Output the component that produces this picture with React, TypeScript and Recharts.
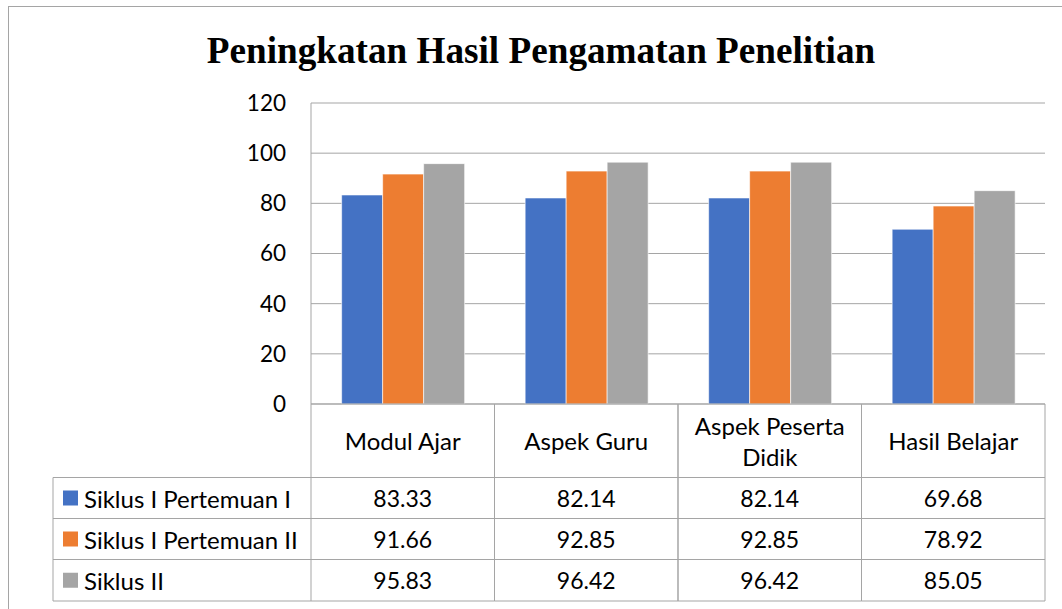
import React from 'react';
import { BarChart, Bar, XAxis, YAxis, CartesianGrid } from 'recharts';

const categories = ['Modul Ajar', 'Aspek Guru', 'Aspek Peserta Didik', 'Hasil Belajar'];
const seriesNames = ['Siklus I Pertemuan I', 'Siklus I Pertemuan II', 'Siklus II'];
const siklus1Pertemuan1 = [83.33, 82.14, 82.14, 69.68];
const siklus1Pertemuan2 = [91.66, 92.85, 92.85, 78.92];
const siklus2 = [95.83, 96.42, 96.42, 85.05];
const yTicks = [0, 20, 40, 60, 80, 100, 120];
const colors = ['#4472C4', '#ED7D31', '#A5A5A5'];
const title = 'Peningkatan Hasil Pengamatan Penelitian';

const seriesValues = [siklus1Pertemuan1, siklus1Pertemuan2, siklus2];
const data = categories.map((c, i) => ({
  name: c,
  s0: siklus1Pertemuan1[i],
  s1: siklus1Pertemuan2[i],
  s2: siklus2[i],
}));

const CHART_W = 1053;
const CHART_H = 602;
const M_TOP = 96;
const M_RIGHT = 17;
const Y_W = 302;
const X_H = 205;
const HEADER_LEFT = 44;
const ROW_EDGES = [73.5, 114.5, 155.5, 197];
const LINE = '#a5a5a5';
const FONT = 'Lato, "Open Sans", sans-serif';
const FS_TEXT = 24;
const FS_NUM = 23;
const FS_TICK = 22.5;

function wrap(label: string, max: number): string[] {
  const words = label.split(' ');
  const lines: string[] = [];
  let cur = '';
  for (const w of words) {
    const next = cur ? cur + ' ' + w : w;
    if (next.length > max && cur) {
      lines.push(cur);
      cur = w;
    } else cur = next;
  }
  if (cur) lines.push(cur);
  return lines;
}

const TableTick = (props: any) => {
  const { x, y, payload } = props;
  const idx = categories.indexOf(payload.value);
  const bw = (CHART_W - M_RIGHT - Y_W) / categories.length;
  const left = x - bw / 2;
  const right = x + bw / 2;
  const lines = wrap(String(payload.value), 14);
  const catCenter = y + ROW_EDGES[0] / 2;
  const lh = 31;
  const bottom = y + ROW_EDGES[ROW_EDGES.length - 1];
  return (
    <g>
      <line x1={left} y1={y} x2={left} y2={bottom} stroke={LINE} />
      <line x1={right} y1={y} x2={right} y2={bottom} stroke={LINE} />
      {ROW_EDGES.map((r, k) => (
        <line key={k} x1={left} y1={y + r} x2={right} y2={y + r} stroke={LINE} />
      ))}
      {lines.map((ln, k) => (
        <text
          key={k}
          x={x}
          y={catCenter + (k - (lines.length - 1) / 2) * lh}
          textAnchor="middle"
          dominantBaseline="central"
          fontFamily={FONT}
          fontSize={FS_TEXT}
          fill="#000"
        >
          {ln}
        </text>
      ))}
      {seriesValues.map((vals, s) => (
        <text
          key={s}
          x={x}
          y={y + (ROW_EDGES[s] + ROW_EDGES[s + 1]) / 2}
          textAnchor="middle"
          dominantBaseline="central"
          fontFamily={FONT}
          fontSize={FS_NUM}
          fill="#000"
        >
          {vals[idx].toFixed(2)}
        </text>
      ))}
      {idx === 0 && (
        <g>
          <line x1={HEADER_LEFT} y1={y + ROW_EDGES[0]} x2={HEADER_LEFT} y2={bottom} stroke={LINE} />
          {ROW_EDGES.map((r, k) => (
            <line key={k} x1={HEADER_LEFT} y1={y + r} x2={left} y2={y + r} stroke={LINE} />
          ))}
          {seriesNames.map((n, s) => {
            const cy = y + (ROW_EDGES[s] + ROW_EDGES[s + 1]) / 2;
            return (
              <g key={s}>
                <rect x={HEADER_LEFT + 10} y={cy - 7.5} width={15} height={15} fill={colors[s]} />
                <text
                  x={HEADER_LEFT + 31}
                  y={cy}
                  dominantBaseline="central"
                  fontFamily={FONT}
                  fontSize={FS_TEXT}
                  fill="#000"
                >
                  {n}
                </text>
              </g>
            );
          })}
        </g>
      )}
    </g>
  );
};

export default function App() {
  return (
    <div
      style={{
        position: 'fixed',
        left: 8,
        top: 6,
        width: 1054,
        height: 603,
        borderLeft: `1px solid ${LINE}`,
        borderTop: `1px solid ${LINE}`,
        boxSizing: 'border-box',
        background: '#fff',
      }}
    >
      <div style={{ position: 'absolute', left: 0, top: 0 }}>
        <BarChart
          width={CHART_W}
          height={CHART_H}
          data={data}
          margin={{ top: M_TOP, right: M_RIGHT, left: 0, bottom: 0 }}
          barCategoryGap="16.7%"
          barGap={0}
        >
          <CartesianGrid horizontal vertical={false} stroke={LINE} />
          <YAxis
            width={Y_W}
            domain={[0, 120]}
            ticks={yTicks}
            interval={0}
            tickLine={false}
            tickSize={0}
            tickMargin={25}
            axisLine={{ stroke: LINE }}
            tick={{ fill: '#000', fontSize: FS_TICK, fontFamily: FONT }}
          />
          <XAxis
            dataKey="name"
            height={X_H}
            tickLine={false}
            tickSize={0}
            tickMargin={0}
            interval={0}
            axisLine={{ stroke: LINE }}
            tick={<TableTick />}
          />
          {seriesNames.map((n, s) => (
            <Bar
              key={s}
              dataKey={`s${s}`}
              name={n}
              fill={colors[s]}
              stroke="#ffffff"
              strokeWidth={0.6}
              isAnimationActive={false}
            />
          ))}
        </BarChart>
      </div>
      <svg
        width={CHART_W}
        height={120}
        style={{ position: 'absolute', left: 0, top: 0, pointerEvents: 'none' }}
      >
        <text
          x={532}
          y={56}
          textAnchor="middle"
          fontFamily='"Liberation Serif", "Times New Roman", serif'
          fontWeight="bold"
          fontSize={37.2}
          fill="#000"
        >
          {title}
        </text>
      </svg>
    </div>
  );
}
